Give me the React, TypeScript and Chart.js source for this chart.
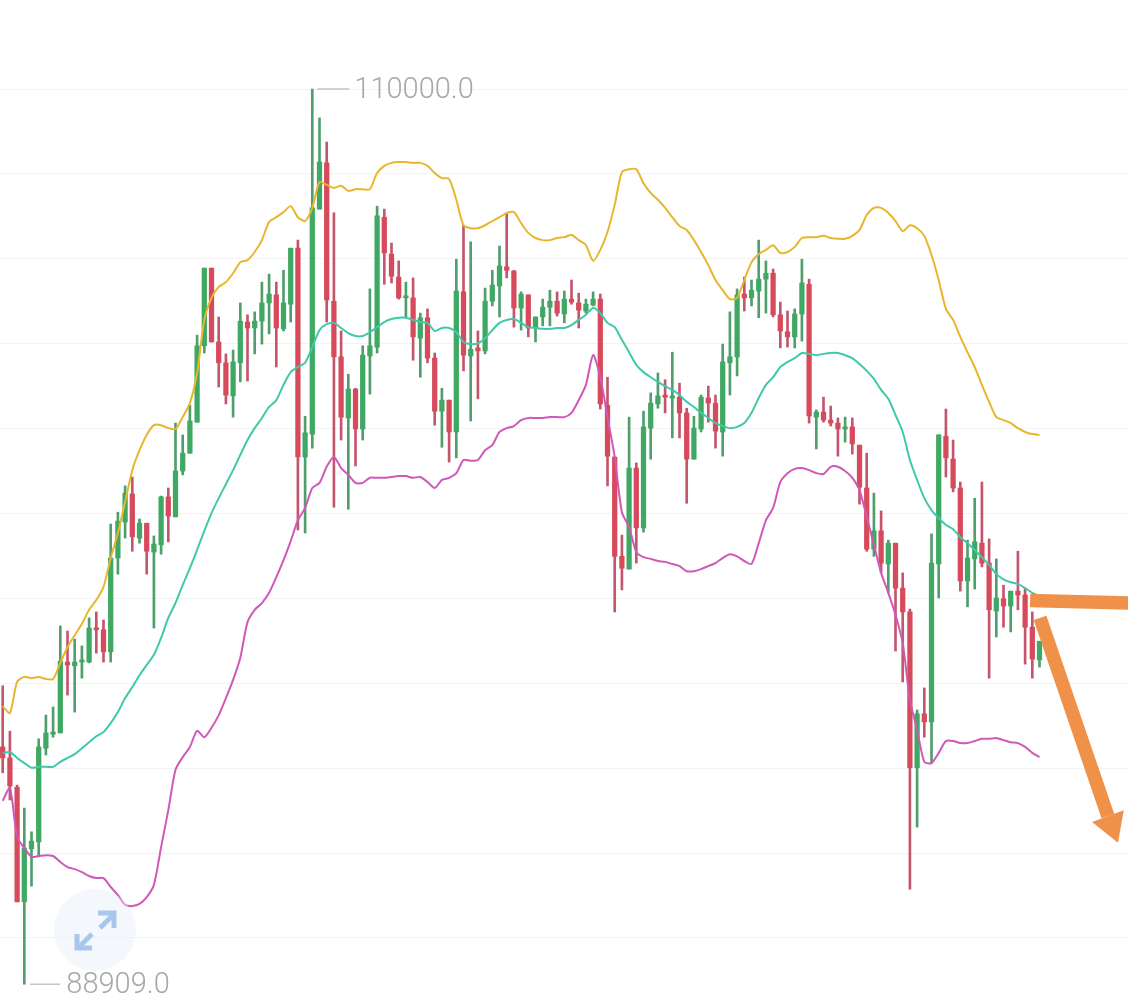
import { useEffect, useRef } from 'react';
import { Chart, registerables } from 'chart.js';

Chart.register(...registerables);

// OHLC, one entry per candle
const opens = [94500,94240,93550,90850,92100,92260,94470,94800,94830,96500,96410,96500,96500,97300,97260,96740,98950,99800,100460,99420,99770,99090,99260,100390,99920,101000,101420,102150,103950,105780,104040,103550,102770,103550,104510,104370,104530,104960,105150,104350,104930,106250,101330,101870,107170,108260,105000,103690,102250,102930,101990,103710,103920,106980,106110,105570,105080,105080,104130,104610,103660,102410,102670,101920,105220,103710,103900,103830,105000,105360,105810,105710,104840,105150,104370,104630,104860,105000,104700,105050,104960,104770,104910,105050,102550,101330,98990,98690,101070,99660,102010,102580,102770,102720,102740,102370,101280,101990,102720,102600,101920,103550,103690,105170,105080,105240,105520,105660,104680,104280,104160,104700,105400,102270,102390,102200,102130,101990,102040,101610,100600,99160,99590,98810,99300,98240,97680,94010,95280,95090,98810,101820,101280,100600,98410,98930,99300,98830,97700,97990,97820,98170,98080,97320,96550];
const closes = [94240,93580,90850,92120,92280,94500,94830,94850,96520,96430,96500,96550,97300,97260,96740,98950,99820,100480,99450,99770,99110,99280,100390,99940,101000,101420,102180,103950,105780,104040,103550,102790,103570,104530,104370,104530,104960,105170,104370,104960,106250,101330,101900,107200,108280,105030,103690,102270,102930,101990,103730,103950,107010,106140,105590,105080,105100,104160,104610,103660,102410,102670,101920,105240,103730,103870,103830,105000,105380,105830,105730,104840,105170,104370,104630,104860,105000,104720,105050,104980,104790,104930,105050,102580,101350,98990,98710,101070,99660,102040,102600,102770,102740,102770,102370,101280,102010,102740,102600,101940,103570,103690,105150,105080,105260,105520,105660,104680,104300,104160,104700,105430,102300,102390,102200,102130,101990,102040,101640,100620,99160,99590,98830,99300,98240,97680,94010,95280,95090,98830,101850,101310,100600,98410,98950,99330,98830,97730,98010,97820,98170,98080,97320,96570,96990];
const highs = [95940,94870,93600,93060,92500,94690,95250,95440,97350,97230,97040,96880,97540,97680,97490,99750,100030,100650,100860,99870,99770,99470,100410,100600,102130,101850,102550,104200,105780,105780,104630,103760,103850,104960,104680,104750,105450,105640,105450,105730,106250,106440,102290,110000,109320,108750,107080,104300,103280,102950,103950,105290,107240,107170,106370,105950,105450,105550,104720,104820,103780,102950,102670,105990,106790,106400,104300,105310,105730,106300,107080,105730,105220,105150,104630,105050,105260,105220,105240,105500,105190,105050,105220,105170,103210,101330,99490,102270,101190,102410,102840,103310,103150,103800,103070,102480,102290,102790,103000,102790,103990,104750,105290,105570,105500,106440,105950,105760,104980,104770,104820,105990,105520,102440,102740,102530,102250,102270,102250,101610,101420,100480,100060,99370,99300,98600,97750,95370,95890,99520,101850,102460,101730,100740,99370,100360,100740,99400,98930,98310,98170,99110,98240,97680,96990];
const lows = [93890,93250,90850,88909,91220,91910,94310,94730,94830,95720,95320,96120,96480,96710,96500,96500,98570,99420,99110,99300,98570,97300,99040,99330,99920,100910,101420,102150,103780,104040,102980,102580,102270,103100,103120,103760,103990,104230,103450,104300,104510,99610,99540,101540,107170,104510,100150,101730,100100,101120,101730,102810,103780,105400,105430,105050,104630,103610,103210,103550,102080,101560,101210,101310,103360,102180,102700,103760,104890,104630,105550,104390,104320,104160,104040,104420,104420,104650,104490,104930,104370,104720,104890,102460,100650,97680,98200,98690,98830,99560,101280,102480,102370,101780,101780,100240,101280,101920,102150,101540,101350,102790,103240,104770,104890,104610,104720,104630,103900,103920,103900,104060,102130,101520,102150,102060,101350,101680,101400,100220,99110,98990,98600,98130,96760,96030,91150,92610,94730,94120,98010,100860,100510,98170,97800,98220,98740,96120,97090,97320,97210,97730,96450,96120,96380];

// Bollinger style bands
const upperBand = [95460,95300,96030,96150,96120,96150,96100,96100,96480,96850,97130,97400,97730,97960,98270,98950,99540,100270,101020,101490,101850,102080,102080,102010,101990,102270,102600,103310,104560,105080,105340,105450,105660,105920,105970,106160,106440,106870,106980,107100,107240,106980,106890,107200,107810,107740,107670,107720,107600,107640,107640,107640,108020,108190,108260,108280,108280,108260,108260,108190,108020,107900,107880,107390,106790,106720,106720,106790,106890,106980,107080,107100,106840,106610,106490,106440,106440,106490,106510,106560,106440,106320,105950,106210,106630,107270,108040,108110,108110,107780,107550,107390,107200,106980,106770,106680,106440,106160,105850,105500,105260,105050,105080,105500,105920,106110,106210,106320,106140,106160,106280,106490,106510,106510,106540,106490,106470,106470,106540,106680,107030,107200,107200,107080,106890,106650,106790,106720,106540,106090,105500,104820,104560,104160,103800,103450,103030,102630,102270,102200,102130,102010,101920,101870,101850];
const middleBand = [94360,94380,94240,94120,94010,94030,94030,94030,94150,94240,94330,94470,94610,94750,94850,95060,95320,95650,95910,96190,96430,96670,97070,97540,97890,98310,98710,99140,99590,100010,100360,100690,101020,101380,101730,102010,102250,102510,102670,103030,103330,103450,103550,103920,104320,104460,104490,104370,104250,104180,104180,104270,104390,104510,104580,104610,104610,104560,104510,104490,104300,104370,104370,104270,104040,103990,104010,104130,104320,104490,104560,104580,104490,104390,104370,104350,104350,104370,104370,104440,104560,104680,104840,104720,104490,104390,104090,103800,103500,103330,103210,103100,103000,102910,102790,102630,102510,102370,102250,102130,102060,102010,102040,102130,102370,102720,103030,103210,103450,103570,103660,103780,103760,103730,103760,103780,103780,103730,103660,103520,103360,103170,102910,102700,102320,101920,101260,100790,100360,100080,99890,99730,99630,99440,99300,99140,98970,98790,98570,98450,98380,98340,98240,98130,98050];
const lowerBand = [93230,93530,92380,92120,91910,91930,91950,91930,91790,91670,91620,91550,91460,91410,91410,91200,91010,90780,90750,90800,90960,91250,92140,93010,93960,94260,94500,94880,94730,94950,95250,95650,96080,96600,97440,97730,97890,98130,98500,98900,99350,99840,100130,100600,100720,101100,101330,101070,100910,100720,100720,100840,100840,100840,100860,100880,100880,100840,100860,100740,100600,100790,100840,100950,101260,101240,101260,101490,101610,101920,102010,102060,102200,102250,102250,102250,102270,102270,102270,102370,102670,103030,103730,103210,102270,101330,100030,99680,99090,98970,98930,98880,98860,98810,98760,98640,98640,98690,98760,98830,98950,99040,98990,98880,98810,99300,99840,100130,100740,100950,101050,101070,101020,100950,100930,101100,101100,101000,100840,100550,99920,99260,98600,98130,97610,96950,95610,94900,94150,94120,94360,94640,94640,94590,94590,94640,94690,94690,94710,94660,94610,94590,94500,94360,94260];

const gridTicks = [110000,108000,106000,104000,102000,100000,98000,96000,94000,92000,90000];
const maxLabel = '110000.0';
const minLabel = '88909.0';

// hand drawn arrows on the screenshot, [candle index, price]
const arrowFlat = [[142.7,97950],[156.4,97890]];
const arrowDiagonal = [[144.07,97540],[153.5,92870]];
const arrowHead = [[154.9,92240],[151.3,92730],[155.7,93010]];

const UP = '#3fa963';
const DOWN = '#d64a5c';
const UP_WICK = '#4f9e6c';
const DOWN_WICK = '#c4566c';
const ORANGE = '#ef9148';

const isUp = (i: number) => closes[i] >= opens[i];

const overlayPlugin = {
  id: 'overlay',
  afterDatasetsDraw(chart: any) {
    const { ctx, scales: { x, y } } = chart;
    const px = (p: number[]) => [x.getPixelForValue(p[0]), y.getPixelForValue(p[1])];

    ctx.save();
    // max / min labels with their leader lines
    const hi = highs.indexOf(Math.max(...highs));
    const lo = lows.indexOf(Math.min(...lows));
    const hiX = x.getPixelForValue(hi);
    const hiY = y.getPixelForValue(highs[hi]);
    const loX = x.getPixelForValue(lo);
    const loY = y.getPixelForValue(lows[lo]);
    ctx.strokeStyle = '#c4c4c4';
    ctx.lineWidth = 1.5;
    ctx.beginPath();
    ctx.moveTo(hiX + 5, hiY);
    ctx.lineTo(hiX + 37, hiY);
    ctx.moveTo(loX + 6, loY);
    ctx.lineTo(loX + 36, loY);
    ctx.stroke();
    ctx.fillStyle = '#a8a8a8';
    ctx.font = '300 29px Roboto';
    ctx.textBaseline = 'middle';
    ctx.fillText(maxLabel, hiX + 42, hiY + 2);
    ctx.fillText(minLabel, loX + 42, loY + 2);

    // arrows
    ctx.strokeStyle = ORANGE;
    ctx.fillStyle = ORANGE;
    ctx.lineWidth = 13.5;
    for (const seg of [arrowFlat, arrowDiagonal]) {
      const [a, b] = seg.map(px);
      ctx.beginPath();
      ctx.moveTo(a[0], a[1]);
      ctx.lineTo(b[0], b[1]);
      ctx.stroke();
    }
    ctx.beginPath();
    arrowHead.map(px).forEach((p, i) => (i ? ctx.lineTo(p[0], p[1]) : ctx.moveTo(p[0], p[1])));
    ctx.closePath();
    ctx.fill();
    ctx.restore();
  },
};

export default function App() {
  const canvasRef = useRef<HTMLCanvasElement>(null);

  useEffect(() => {
    if (!canvasRef.current) return;

    const band = (values: number[], color: string) => ({
      type: 'line' as const,
      data: values.map((v, i) => ({ x: i, y: v })),
      borderColor: color,
      borderWidth: 2,
      pointRadius: 0,
      tension: 0.25,
      order: 1,
    });

    const chart = new Chart(canvasRef.current, {
      type: 'bar',
      data: {
        datasets: [
          band(upperBand, '#e8b62c'),
          band(middleBand, '#3fc9a9'),
          band(lowerBand, '#cf58b8'),
          {
            // candle bodies
            data: opens.map((o, i) => ({ x: i, y: [o, closes[i]] })),
            backgroundColor: opens.map((_, i) => (isUp(i) ? UP : DOWN)),
            barThickness: 4.6,
            minBarLength: 2,
            grouped: false,
            order: 2,
          },
          {
            // wicks
            data: highs.map((h, i) => ({ x: i, y: [lows[i], h] })),
            backgroundColor: highs.map((_, i) => (isUp(i) ? UP_WICK : DOWN_WICK)),
            barThickness: 2,
            grouped: false,
            order: 3,
          },
        ] as any,
      },
      options: {
        responsive: false,
        animation: false,
        devicePixelRatio: 1,
        layout: { padding: 0 },
        plugins: { legend: { display: false }, tooltip: { enabled: false } },
        scales: {
          x: { type: 'linear', display: false, offset: false, min: -0.375, max: 156.29 },
          y: {
            type: 'linear',
            min: 88514,
            max: 112097,
            border: { display: false },
            grid: { color: '#f3f3f3', lineWidth: 1, drawTicks: false },
            ticks: { display: false },
            afterBuildTicks: (axis: any) => {
              axis.ticks = gridTicks.map((value) => ({ value }));
            },
            afterFit: (axis: any) => {
              axis.width = 0;
            },
          },
        },
      },
      plugins: [overlayPlugin],
    });

    return () => chart.destroy();
  }, []);

  return (
    <div style={{ position: 'absolute', left: 0, top: 0, width: 1128, height: 1001, background: '#fff', overflow: 'hidden' }}>
      <canvas ref={canvasRef} width={1128} height={1001} style={{ display: 'block' }} />
      {/* fullscreen button floating over the chart */}
      <svg width={1128} height={1001} style={{ position: 'absolute', left: 0, top: 0 }}>
        <circle cx={95} cy={930} r={41} fill="#e6effb" fillOpacity={0.45} />
        <g fill="none" stroke="#a9c6ec" strokeWidth={5}>
          <path d="M100 928 L114 914" />
          <path d="M98 913 H114 V928" />
          <path d="M78 948 L92 934" />
          <path d="M77 934 V948 H92" />
        </g>
      </svg>
    </div>
  );
}
